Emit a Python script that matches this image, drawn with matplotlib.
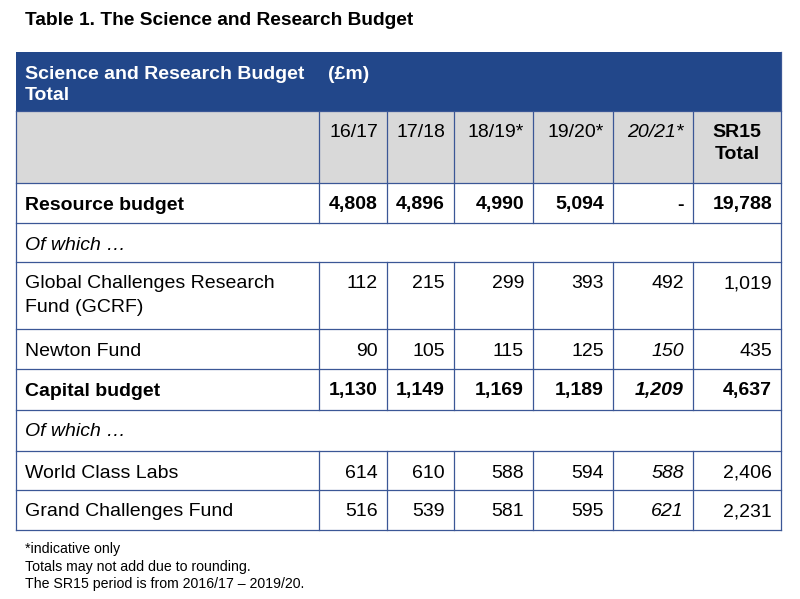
import matplotlib.pyplot as plt
from matplotlib.patches import Rectangle

# dados da tabela
titulo = "Table 1. The Science and Research Budget"
cabecalho = ["Science and Research Budget\nTotal", "(£m)"]
anos = ["16/17", "17/18", "18/19*", "19/20*", "20/21*", "SR15\nTotal"]
linhas = ["Resource budget", "Of which …", "Global Challenges Research\nFund (GCRF)",
          "Newton Fund", "Capital budget", "Of which …", "World Class Labs",
          "Grand Challenges Fund"]
resource_budget = ["4,808", "4,896", "4,990", "5,094", "-", "19,788"]
gcrf = ["112", "215", "299", "393", "492", "1,019"]
newton_fund = ["90", "105", "115", "125", "150", "435"]
capital_budget = ["1,130", "1,149", "1,169", "1,189", "1,209", "4,637"]
world_class_labs = ["614", "610", "588", "594", "588", "2,406"]
grand_challenges = ["516", "539", "581", "595", "621", "2,231"]
valores = [resource_budget, None, gcrf, newton_fund, capital_budget, None,
           world_class_labs, grand_challenges]
notas = ["*indicative only", "Totals may not add due to rounding.",
         "The SR15 period is from 2016/17 – 2019/20."]

# layout (pixels)
col_x = [16, 319, 387, 454, 533, 613, 693, 781]
lin_y = [183, 223, 262, 329, 369, 410, 451, 490, 530]
negrito = [True, False, False, False, True, False, False, False]
italico_col5 = [False, False, False, True, True, False, True, True]
azul = "#22478a"
borda = "#3b5796"
cinza = "#d9d9d9"

plt.rcParams['font.family'] = ['Liberation Sans', 'DejaVu Sans']
fig = plt.figure(figsize=(8, 5.99), dpi=100)
ax = fig.add_axes([0, 0, 1, 1])
ax.set_xlim(0, 800)
ax.set_ylim(599, 0)
ax.axis('off')

fs = 14.0


def texto(x, y, s, tam=fs, **kw):
    # y = centro visual das maiúsculas; converte para a linha de base
    base = y + 0.36 * tam * 100 / 72
    ax.text(x, base, s, fontsize=tam, va='baseline', **kw)


texto(25, 18, titulo, tam=13.8, fontweight='bold')

# faixa azul
ax.add_patch(Rectangle((col_x[0], 52), col_x[-1] - col_x[0], 59, color=azul, lw=0))
l1, l2 = cabecalho[0].split("\n")
texto(25, 72, l1, color='white', fontweight='bold')
texto(25, 93, l2, color='white', fontweight='bold')
texto(328, 72, cabecalho[1], color='white', fontweight='bold')

# linha cinza dos anos
ax.add_patch(Rectangle((col_x[0], 111), col_x[-1] - col_x[0], 72, color=cinza, lw=0))
for i, a in enumerate(anos):
    if i < 5:
        estilo = 'italic' if i == 4 else 'normal'
        texto(col_x[i + 2] - 9, 130, a, ha='right', style=estilo)
    else:
        p1, p2 = a.split("\n")
        meio = (col_x[6] + col_x[7]) / 2
        texto(meio, 130, p1, fontweight='bold', ha='center')
        texto(meio, 152, p2, fontweight='bold', ha='center')

# bordas
for y in [111] + lin_y:
    ax.plot([col_x[0], col_x[-1]], [y, y], color=borda, lw=0.9)
ax.plot([col_x[0], col_x[0]], [111, lin_y[-1]], color=borda, lw=0.9)
ax.plot([col_x[-1], col_x[-1]], [52, lin_y[-1]], color=borda, lw=0.9)
for x in col_x[1:-1]:
    ax.plot([x, x], [111, lin_y[0]], color=borda, lw=0.9)

# corpo
for r, nome in enumerate(linhas):
    topo, base = lin_y[r], lin_y[r + 1]
    peso = 'bold' if negrito[r] else 'normal'
    estilo = 'italic' if nome.startswith("Of which") else 'normal'
    for k, parte in enumerate(nome.split("\n")):
        texto(25, topo + 19.5 + 23 * k, parte, fontweight=peso, style=estilo)
    if valores[r] is None:
        continue
    for x in col_x[1:-1]:
        ax.plot([x, x], [topo, base], color=borda, lw=0.9)
    for c, v in enumerate(valores[r]):
        st = 'italic' if (c == 4 and italico_col5[r]) else 'normal'
        texto(col_x[c + 2] - 9, topo + 19.5, v, fontweight=peso, style=st, ha='right')

# notas de rodapé
for i, n in enumerate(notas):
    texto(25, 548 + 17.5 * i, n, tam=10.2)

plt.savefig('out.png', dpi=100)
